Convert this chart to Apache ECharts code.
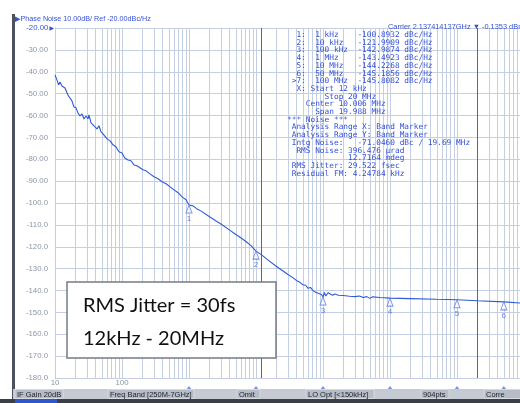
<!DOCTYPE html>
<html>
<head>
<meta charset="utf-8">
<title>Phase Noise</title>
<script src="https://cdn.jsdelivr.net/npm/echarts@6/dist/echarts.min.js"></script>
<style>
html, body { margin: 0; padding: 0; background: #fff; }
#chart { width: 520px; height: 403px; }
</style>
</head>
<body>
<div id="chart"></div>
<script>
// trace: offset frequency (Hz) -> dBc/Hz
const traceFreq = [
  10, 10.7, 11.3, 11.9, 12.7, 14.1, 15.6, 16.7, 17.9, 19.2, 20.6, 22.0, 23.6, 25.3, 27.1, 29.0,
  31.1, 32.1, 34.5, 36.9, 39.5, 42.4, 45.4, 48.6, 52.1, 55.8, 59.8, 66.3, 73.3, 81.2, 90, 100,
  110, 123, 136, 151, 167, 185, 205, 228, 262, 300, 345, 396, 455, 522, 599, 687, 788, 904,
  1000, 1150, 1300, 1500, 2000, 2500, 3000, 4000, 5000, 6000, 7000, 8500, 10000,
  12000, 15000, 20000, 25000, 30000, 35000, 40000, 45000, 50000, 55000, 60000, 65000, 70000,
  75000, 80000, 85000, 90000, 95000, 100000, 105000, 110000, 120000, 130000, 140000, 150000,
  170000, 200000, 250000, 300000, 350000, 400000, 450000, 500000, 550000, 700000,
  1e6, 2e6, 5e6, 1e7, 2e7, 5e7, 1e8
]
const traceDb = [
  -41.5, -43.7, -46.0, -44.7, -46.5, -47.4, -50.6, -51.5, -53.3, -56.1, -56.5, -58.8, -60.2, -59.3, -61.6, -60.2,
  -61.6, -59.7, -63.4, -62.5, -65.2, -66.1, -64.7, -67.5, -68.4, -69.3, -70.7, -71.6, -73.4, -74.3, -76.6, -77.1,
  -79.4, -80.3, -80.7, -82.6, -83.0, -83.9, -84.8, -85.3, -86.7, -88.0, -88.9, -90.3, -91.2, -92.6, -94.0, -95.3, -97.2, -98.5,
  -100.9, -101.3, -102.6, -103.6, -106.2, -108.1, -109.6, -112.3, -114.4, -116.0, -117.5, -119.6, -122.0,
  -123.6, -126.0, -128.9, -131.0, -132.7, -134.0, -135.4, -136.2, -137.4, -137.6, -139.0, -138.6, -139.8,
  -140.6, -140.0, -141.3, -140.5, -141.8, -143.0, -140.9, -142.5, -141.0, -141.7, -142.2, -141.6,
  -142.2, -142.3, -142.6, -142.8, -142.5, -143.2, -142.8, -143.6, -142.9, -143.2,
  -143.5, -143.7, -144.0, -144.2, -144.7, -145.2, -145.8
]

const markerFreq = [1e3, 1e4, 1e5, 1e6, 1e7, 5e7, 1e8]
const markerDb = [-100.8932, -121.9909, -142.9874, -143.4923, -144.2268, -145.1856, -145.8082]
const markerNames = ['1 kHz', '10 kHz', '100 kHz', '1 MHz', '10 MHz', '50 MHz', '100 MHz']
const bandMarkers = [12e3, 20e6]
const xLabels = { 10: '10', 100: '100' }
const noiseLines = [
  '  X: Start 12 kHz',
  '        Stop 20 MHz',
  '    Center 10.006 MHz',
  '      Span 19.988 MHz',
  '*** Noise ***',
  ' Analysis Range X: Band Marker',
  ' Analysis Range Y: Band Marker',
  ' Intg Noise:   -71.0460 dBc / 19.69 MHz',
  '  RMS Noise: 396.476 \u00b5rad',
  '             12.7164 mdeg',
  ' RMS Jitter: 29.522 fsec',
  ' Residual FM: 4.24784 kHz'
]
const statusItems = ['IF Gain 20dB', 'Freq Band [250M-7GHz]', 'Omit', 'LO Opt [<150kHz]', '904pts', 'Corre']
const statusX = [15, 108, 237, 306, 421, 484]
const statusW = [48, 86, 23, 68, 28, 40]

const GRID_COLOR = '#c4cfe1'
const BLUE = '#3552d2'

const chart = echarts.init(document.getElementById('chart'))

// log grid: 1..9 per decade
const gridFreqs = []
for (let d = 10; d < 1e8; d *= 10) {
  for (let k = 1; k < 10; k++) gridFreqs.push(k * d)
}

const tableText = markerFreq.map((f, i) => {
  const prefix = i === markerFreq.length - 1 ? ' >' : '  '
  return prefix + (i + 1) + ':  ' + markerNames[i].padEnd(9) + markerDb[i].toFixed(4) + ' dBc/Hz'
}).concat(noiseLines).join('\n')

const statusGraphics = []
statusItems.forEach((s, i) => {
  statusGraphics.push({
    type: 'rect',
    shape: { x: statusX[i], y: 389.5, width: statusW[i], height: 9 },
    style: { fill: '#b7bcc6', stroke: '#d6d9df', lineWidth: 1 },
    z: 11
  })
  statusGraphics.push({
    type: 'text',
    left: statusX[i] + 2,
    top: 390.5,
    z: 12,
    style: { text: s, fill: '#1d2330', font: '7.5px "Liberation Sans", sans-serif' }
  })
})

const option = {
  animation: false,
  backgroundColor: '#ffffff',
  grid: { left: 55, top: 28, width: 469, height: 350, outerBoundsMode: 'none' },
  xAxis: {
    type: 'log',
    logBase: 10,
    min: 10,
    max: 1e8,
    axisLine: { show: false },
    axisTick: { show: false },
    splitLine: { show: false },
    axisLabel: {
      margin: 1,
      color: '#8d96a8',
      fontSize: 7.8,
      fontFamily: 'Liberation Sans',
      formatter: (v) => xLabels[Math.round(v)] || ''
    }
  },
  yAxis: {
    type: 'value',
    min: -180,
    max: -20,
    interval: 10,
    axisLine: { show: true, lineStyle: { color: '#98a2b5', width: 1 } },
    axisTick: { show: false },
    splitLine: { show: true, lineStyle: { color: GRID_COLOR, width: 1 } },
    axisLabel: {
      margin: 1,
      formatter: (v) => {
        const txt = v > -100 ? v.toFixed(2) : v.toFixed(1)
        if (v === -20) return '{b|' + txt + '}{t|\u25B6}'
        return '{g|' + txt + '}{s|}'
      },
      rich: {
        g: { color: '#8d96a8', fontSize: 7.8, fontFamily: 'Liberation Sans' },
        b: { color: BLUE, fontSize: 7.8, fontFamily: 'Liberation Sans' },
        t: { color: BLUE, fontSize: 6, fontFamily: 'DejaVu Sans', padding: [0, 0, 0, 1] },
        s: { width: 6 }
      }
    }
  },
  series: [
    {
      // vertical log grid lines
      type: 'line',
      data: [[10, -180]],
      showSymbol: false,
      lineStyle: { width: 0 },
      silent: true,
      z: 1,
      markLine: {
        silent: true,
        symbol: ['none', 'none'],
        label: { show: false },
        lineStyle: { color: GRID_COLOR, width: 1, type: 'solid' },
        data: gridFreqs.map((f) => ({ xAxis: f }))
      }
    },
    {
      // band markers 12 kHz - 20 MHz
      type: 'line',
      data: [[10, -180]],
      showSymbol: false,
      lineStyle: { width: 0 },
      silent: true,
      z: 2,
      markLine: {
        silent: true,
        symbol: ['none', 'none'],
        label: { show: false },
        lineStyle: { color: '#4c60c8', width: 1, type: 'solid' },
        data: bandMarkers.map((f) => ({ xAxis: f }))
      }
    },
    {
      name: 'Phase Noise',
      type: 'line',
      data: traceFreq.map((f, i) => [f, traceDb[i]]),
      showSymbol: false,
      lineStyle: { color: '#2f5ad8', width: 1.1 },
      z: 5
    },
    {
      name: 'markers',
      type: 'scatter',
      data: markerFreq.map((f, i) => [f, markerDb[i]]),
      symbol: 'triangle',
      symbolSize: [6, 8],
      symbolOffset: [0, 4],
      itemStyle: { color: 'rgba(255,255,255,0.85)', borderColor: '#5b7ce0', borderWidth: 1 },
      label: {
        show: true,
        position: 'bottom',
        distance: 1,
        color: '#4a68d8',
        fontSize: 8,
        fontFamily: 'Liberation Sans',
        formatter: (p) => String(p.dataIndex + 1)
      },
      clip: false,
      z: 6
    },
    {
      // marker flags under the axis
      type: 'scatter',
      data: markerFreq.map((f) => [f, -180]),
      symbol: 'triangle',
      symbolSize: [6, 4],
      symbolOffset: [0, 10],
      itemStyle: { color: '#5577dc' },
      clip: false,
      silent: true,
      z: 6
    }
  ],
  graphic: [
    { type: 'rect', shape: { x: 12, y: 14, width: 3, height: 385 }, style: { fill: '#4c515c' }, z: 10 },
    {
      type: 'text', left: 15, top: 16, z: 10,
      style: { text: '\u25B6Phase Noise 10.00dB/ Ref -20.00dBc/Hz', fill: BLUE, font: '7.2px "Liberation Sans", "DejaVu Sans", sans-serif' }
    },
    {
      type: 'text', left: 388, top: 23, z: 10,
      style: { text: 'Carrier 2.137414137GHz \u25BC -0.1353 dBm', fill: BLUE, font: '7.4px "Liberation Sans", "DejaVu Sans", sans-serif' }
    },
    {
      type: 'text', left: 287, top: 31, z: 8,
      style: { text: tableText, fill: BLUE, font: '7.8px "DejaVu Sans Mono", monospace', lineHeight: 7.7 }
    },
    // RMS jitter note
    {
      type: 'rect', shape: { x: 67, y: 282, width: 209, height: 76 },
      style: { fill: '#ffffff', stroke: '#767b84', lineWidth: 1.5 }, z: 9
    },
    {
      type: 'text', left: 83, top: 296, z: 10,
      style: { text: 'RMS Jitter = 30fs', fill: '#111111', font: '20px Lato, "Open Sans", sans-serif' }
    },
    {
      type: 'text', left: 83, top: 329, z: 10,
      style: { text: '12kHz - 20MHz', fill: '#111111', font: '20px Lato, "Open Sans", sans-serif' }
    },
    // status bar
    { type: 'rect', shape: { x: 13, y: 389, width: 507, height: 10 }, style: { fill: '#c6cad2' }, z: 10 },
    { type: 'rect', shape: { x: 0, y: 399, width: 520, height: 4 }, style: { fill: '#3b3f48' }, z: 10 },
    { type: 'rect', shape: { x: 15, y: 399, width: 42, height: 4 }, style: { fill: '#2f57c9' }, z: 11 }
  ].concat(statusGraphics)
}

chart.setOption(option)
</script>
</body>
</html>
